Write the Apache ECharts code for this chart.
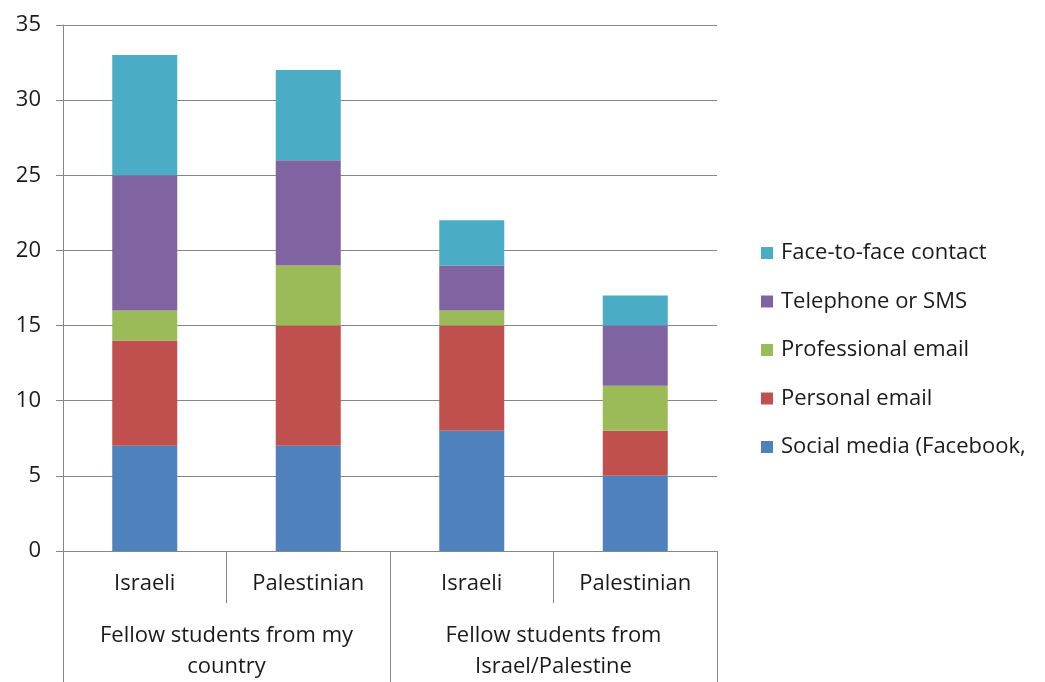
<!DOCTYPE html>
<html>
<head>
<meta charset="utf-8">
<script src="https://cdn.jsdelivr.net/npm/echarts@6/dist/echarts.min.js"></script>
<style>
  html, body { margin: 0; padding: 0; background: #fff; }
  #chart { width: 1045px; height: 682px; }
</style>
</head>
<body>
<div id="chart"></div>
<script>
// Respondent groups (inner axis) and their parent groups (outer axis)
const categories = ['Israeli', 'Palestinian', 'Israeli', 'Palestinian'];
const groups = ['Fellow students from my\ncountry', 'Fellow students from\nIsrael/Palestine'];
const yTicks = [0, 5, 10, 15, 20, 25, 30, 35];

// Contact channels, stacked bottom to top
const socialMedia = [7, 7, 8, 5];
const personalEmail = [7, 8, 7, 3];
const professionalEmail = [2, 4, 1, 3];
const telephoneSms = [9, 7, 3, 4];
const faceToFace = [8, 6, 3, 2];

const seriesNames = [
  'Social media (Facebook,',
  'Personal email',
  'Professional email',
  'Telephone or SMS',
  'Face-to-face contact'
];
const seriesData = [socialMedia, personalEmail, professionalEmail, telephoneSms, faceToFace];
const colors = ['#4F81BD', '#C0504D', '#9BBB59', '#8064A2', '#4BACC6'];

const FONT = 'Open Sans';
const TEXT = '#1a1a1a';
const gray = '#868686';

const chart = echarts.init(document.getElementById('chart'), null, { renderer: 'canvas' });

chart.setOption({
  animation: false,
  color: colors,
  textStyle: { fontFamily: FONT },
  grid: { left: 63, right: 328, top: 25, bottom: 129, containLabel: false },
  legend: {
    orient: 'vertical',
    left: 756,
    top: 237,
    itemWidth: 12,
    itemHeight: 12,
    itemGap: 26.5,
    icon: 'rect',
    data: seriesNames.slice().reverse(),
    textStyle: { fontFamily: FONT, fontSize: 22, color: TEXT, padding: [0, 0, 0, 3] }
  },
  xAxis: [
    {
      type: 'category',
      data: categories,
      position: 'bottom',
      axisLine: { show: true, lineStyle: { color: gray } },
      axisTick: { show: true, interval: 0, length: 52, lineStyle: { color: gray } },
      axisLabel: { interval: 0, margin: 22, fontSize: 22, color: TEXT, fontFamily: FONT },
      splitLine: { show: false }
    },
    {
      type: 'category',
      data: groups,
      position: 'bottom',
      axisLine: { show: false },
      axisTick: { show: true, interval: 0, length: 131, lineStyle: { color: gray } },
      axisLabel: { interval: 0, margin: 69, fontSize: 22, lineHeight: 31, color: TEXT, fontFamily: FONT },
      splitLine: { show: false }
    }
  ],
  yAxis: {
    type: 'value',
    min: yTicks[0],
    max: yTicks[yTicks.length - 1],
    interval: 5,
    axisLine: { show: true, lineStyle: { color: gray } },
    axisTick: { show: true, length: 7, lineStyle: { color: gray } },
    axisLabel: { fontSize: 22, color: TEXT, margin: 22, fontFamily: FONT },
    splitLine: { show: true, lineStyle: { color: gray, width: 1 } }
  },
  series: seriesNames.map((name, i) => ({
    name: name,
    type: 'bar',
    stack: 'total',
    xAxisIndex: 0,
    barWidth: 65,
    data: seriesData[i],
    itemStyle: { color: colors[i] }
  }))
});
</script>
</body>
</html>
